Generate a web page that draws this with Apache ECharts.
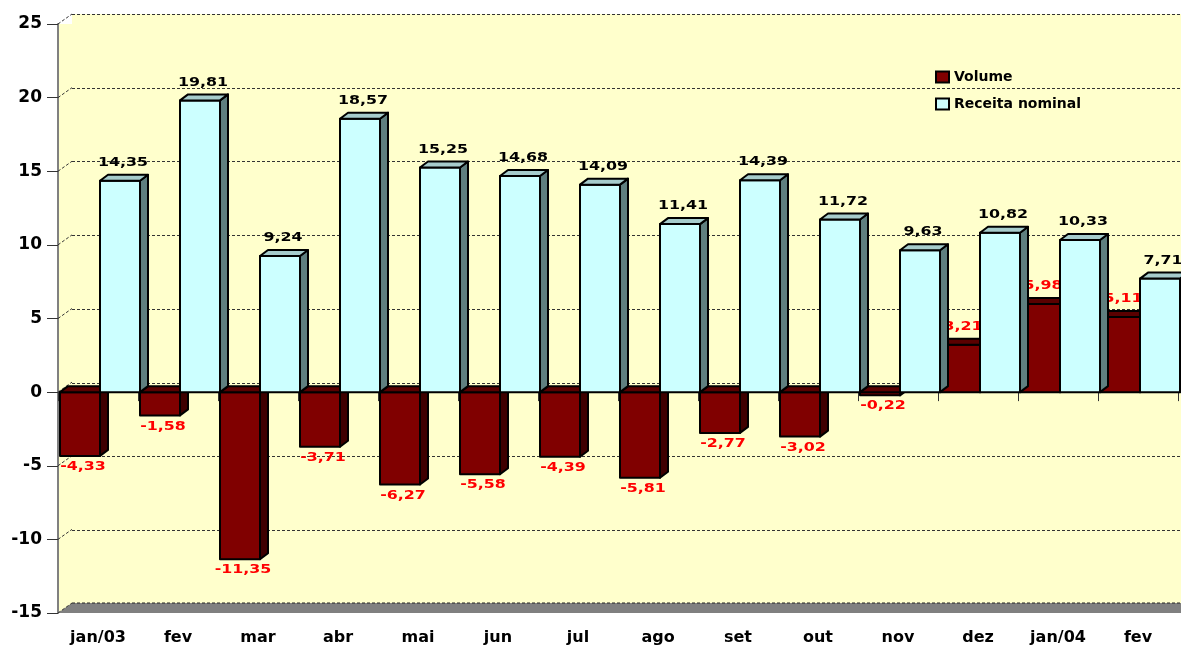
<!DOCTYPE html>
<html>
<head>
<meta charset="utf-8">
<script src="https://cdn.jsdelivr.net/npm/echarts@6/dist/echarts.min.js"></script>
<style>html,body{margin:0;padding:0;background:#fff}#c{width:1181px;height:646px}</style>
</head>
<body>
<div id="c"></div>
<script>
const CATEGORIES = ['jan/03','fev','mar','abr','mai','jun','jul','ago','set','out','nov','dez','jan/04','fev'];
const VOLUME = [-4.33,-1.58,-11.35,-3.71,-6.27,-5.58,-4.39,-5.81,-2.77,-3.02,-0.22,3.21,5.98,5.11];
const RECEITA = [14.35,19.81,9.24,18.57,15.25,14.68,14.09,11.41,14.39,11.72,9.63,10.82,10.33,7.71];
const SERIES_NAMES = ['Volume','Receita nominal'];
const Y_MIN = -15, Y_MAX = 25, Y_STEP = 5;

const BAR_DX = 8, BAR_DY = -6;
const WALL_DX = 14, WALL_DY = -10;
const LABEL_FONT = 'bold 12px "DejaVu Sans"';

const STYLES = [
  {front:'#800000', side:'#3F0000', top:'#5A0000', label:'#FF0000', offset:-0.475},
  {front:'#CCFFFF', side:'#5F7F7F', top:'#A6CCCC', label:'#000000', offset:0.025}
];

function fmt(v){ return v.toFixed(2).replace('.', ','); }

function barRenderer(k){
  const st = STYLES[k];
  return function(params, api){
    const i = api.value(0), v = api.value(1);
    const pv = api.coord([i, v]);
    const p0 = api.coord([i, 0]);
    const bw = api.size([1, 0])[0];
    const x0 = pv[0] + st.offset * bw;
    const x1 = x0 + 0.5 * bw;
    const yTop = Math.min(pv[1], p0[1]);
    const yBot = Math.max(pv[1], p0[1]);
    const line = {stroke:'#000', lineWidth:2, lineJoin:'round'};
    const children = [
      {type:'polygon', shape:{points:[[x1,yTop],[x1+BAR_DX,yTop+BAR_DY],[x1+BAR_DX,yBot+BAR_DY],[x1,yBot]]},
        style:Object.assign({fill:st.side}, line)},
      {type:'rect', shape:{x:x0, y:yTop, width:x1-x0, height:Math.max(yBot-yTop, 0.5)},
        style:Object.assign({fill:st.front}, line)},
      {type:'polygon', shape:{points:[[x0,yTop],[x0+BAR_DX,yTop+BAR_DY],[x1+BAR_DX,yTop+BAR_DY],[x1,yTop]]},
        style:Object.assign({fill:st.top}, line)}
    ];
    const cx = (x0 + x1) / 2 + 3;
    let ty, va;
    if (v >= 0) { ty = yTop - 12; va = 'bottom'; }
    else { ty = yBot + 5; va = 'top'; }
    children.push({type:'text', x:cx, y:ty, scaleX:1.32,
      style:{text:fmt(v), x:0, y:0, fill:st.label, font:LABEL_FONT, textAlign:'center', textVerticalAlign:va}});
    return {type:'group', children};
  };
}

function floorRenderer(params, api){
  const bw = api.size([1, 0])[0];
  const pl = api.coord([0, Y_MIN]);
  const pr = api.coord([CATEGORIES.length - 1, Y_MIN]);
  const left = pl[0] - bw / 2, right = pr[0] + bw / 2 + 4;
  const y = pl[1];
  const children = [
    {type:'polygon', shape:{points:[[left,y],[left+WALL_DX,y+WALL_DY],[right,y+WALL_DY],[right,y]]},
      style:{fill:'#808080', stroke:null}},
    {type:'line', shape:{x1:left+WALL_DX, y1:y+WALL_DY, x2:right, y2:y+WALL_DY},
      style:{stroke:'#222', lineWidth:1, lineDash:[3,2]}}
  ];
  for (let t = Y_MIN; t <= Y_MAX; t += Y_STEP) {
    const yt = api.coord([0, t])[1];
    children.push({type:'line', shape:{x1:left, y1:yt, x2:left+WALL_DX, y2:yt+WALL_DY},
      style:{stroke:'#333', lineWidth:1, lineDash:[3,2]}});
  }
  return {type:'group', children};
}

const chart = echarts.init(document.getElementById('c'), null, {renderer:'canvas'});
chart.setOption({
  animation:false,
  backgroundColor:'#ffffff',
  grid:[
    {left:58, top:24, width:1120, height:590, show:true, backgroundColor:'#FFFFCC', borderWidth:0},
    {left:72, top:14, right:0, height:590, show:true, backgroundColor:'#FFFFCC', borderWidth:0}
  ],
  legend:{
    data:SERIES_NAMES, orient:'vertical', left:930, top:65, itemGap:13,
    itemWidth:13, itemHeight:11, icon:'rect',
    itemStyle:{borderColor:'#000', borderWidth:2},
    textStyle:{fontFamily:'DejaVu Sans', fontWeight:'bold', fontSize:14, color:'#000'}
  },
  xAxis:[
    {type:'category', gridIndex:0, data:CATEGORIES, boundaryGap:true,
      axisLine:{show:true, lineStyle:{color:'#808080', width:2}},
      axisTick:{show:true, length:9, lineStyle:{color:'#333', width:1}},
      axisLabel:{interval:0, margin:17, color:'#000', fontFamily:'DejaVu Sans', fontWeight:'bold', fontSize:16},
      splitLine:{show:false}},
    {type:'category', gridIndex:1, data:CATEGORIES, show:false}
  ],
  yAxis:[
    {type:'value', gridIndex:0, min:Y_MIN, max:Y_MAX, interval:Y_STEP,
      axisLine:{show:true, lineStyle:{color:'#808080', width:2}},
      axisTick:{show:true, length:11, lineStyle:{color:'#333', width:1}},
      axisLabel:{margin:16, color:'#000', fontFamily:'DejaVu Sans', fontWeight:'bold', fontSize:17},
      splitLine:{show:false}},
    {type:'value', gridIndex:1, min:Y_MIN, max:Y_MAX, interval:Y_STEP,
      axisLine:{show:false}, axisTick:{show:false}, axisLabel:{show:false},
      splitLine:{show:true, lineStyle:{color:'#333', width:1, type:[3,2]}}}
  ],
  series:[
    {type:'custom', name:'floor', xAxisIndex:0, yAxisIndex:0, z:1, silent:true,
      renderItem:floorRenderer, data:[[0, Y_MIN]]},
    {type:'custom', name:SERIES_NAMES[0], xAxisIndex:0, yAxisIndex:0, z:2,
      itemStyle:{color:STYLES[0].front}, renderItem:barRenderer(0),
      encode:{x:0, y:1}, data:VOLUME.map((v,i)=>[i,v])},
    {type:'custom', name:SERIES_NAMES[1], xAxisIndex:0, yAxisIndex:0, z:2,
      itemStyle:{color:STYLES[1].front}, renderItem:barRenderer(1),
      encode:{x:0, y:1}, data:RECEITA.map((v,i)=>[i,v])}
  ]
});
</script>
</body>
</html>
